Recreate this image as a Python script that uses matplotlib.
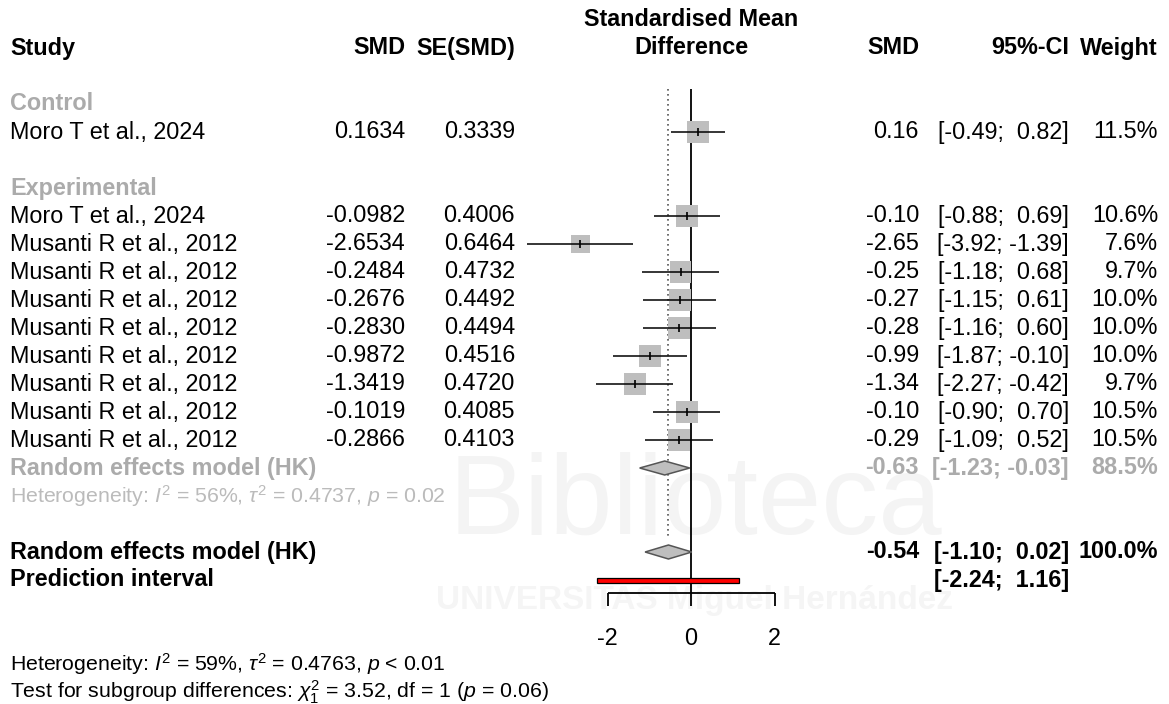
import numpy as np
import matplotlib
matplotlib.use('Agg')
import matplotlib.pyplot as plt
from matplotlib.patches import Polygon, Rectangle

plt.rcParams['font.family'] = ['Liberation Sans', 'DejaVu Sans']
plt.rcParams['mathtext.fontset'] = 'custom'
plt.rcParams['mathtext.rm'] = 'Liberation Sans'
plt.rcParams['mathtext.it'] = 'Liberation Sans:italic'
plt.rcParams['mathtext.bf'] = 'Liberation Sans:bold'

# ---- data ----
ctrl_study = ['Moro T et al., 2024']
ctrl_smd = [0.1634]
ctrl_se = [0.3339]
ctrl_lo = [-0.49]
ctrl_hi = [0.82]
ctrl_w = [11.5]

exp_study = ['Moro T et al., 2024'] + ['Musanti R et al., 2012'] * 8
exp_smd = [-0.0982, -2.6534, -0.2484, -0.2676, -0.2830, -0.9872, -1.3419, -0.1019, -0.2866]
exp_se = [0.4006, 0.6464, 0.4732, 0.4492, 0.4494, 0.4516, 0.4720, 0.4085, 0.4103]
exp_lo = [-0.88, -3.92, -1.18, -1.15, -1.16, -1.87, -2.27, -0.90, -1.09]
exp_hi = [0.69, -1.39, 0.68, 0.61, 0.60, -0.10, -0.42, 0.70, 0.52]
exp_w = [10.6, 7.6, 9.7, 10.0, 10.0, 10.0, 9.7, 10.5, 10.5]

exp_re = [-0.63, -1.23, -0.03, 88.5]      # est, lo, hi, weight
overall_re = [-0.54, -1.10, 0.02, 100.0]
pred_int = [-2.24, 1.16]
x_ticks = [-2, 0, 2]

W, H = 1169, 704
FS = 16.8
FS_SMALL = 15.3
GRAY = '#ABABAB'

fig = plt.figure(figsize=(W / 100, H / 100), dpi=100)
ax = fig.add_axes([0, 0, 1, 1])
ppu = 41.75                       # pixels per SMD unit
x0 = 691                          # pixel of SMD = 0
ax.set_xlim(-x0 / ppu, (W - x0) / ppu)
ax.set_ylim((H - 20) / 28, -20 / 28)   # one row = 28 px
ax.axis('off')

tr = ax.get_yaxis_transform()     # x: figure fraction, y: row


def px(p):
    return p / W


def txt(xp, row, s, ha='left', **kw):
    kw.setdefault('fontsize', FS)
    ax.text(px(xp), row, s, transform=tr, ha=ha, va='center', **kw)


def fmt_ci(lo, hi):
    a = f'{lo:.2f}' if lo < 0 else f' {lo:.2f}'
    b = f'{hi:.2f}' if hi < 0 else f' {hi:.2f}'
    return f'[{a}; {b}]'


# watermark
ax.text(px(695), 17.3, 'Biblioteca', transform=tr, ha='center', va='center',
        fontsize=82, color='#F4F4F4', zorder=0)
ax.text(px(695), 20.75, 'UNIVERSITAS Miguel Hernández', transform=tr, ha='center',
        va='center', fontsize=24, color='#F5F5F5', fontweight='bold', zorder=0)

# headers
txt(10, 1, 'Study', fontweight='bold')
txt(405, 1, 'SMD', ha='right', fontweight='bold')
txt(515, 1, 'SE(SMD)', ha='right', fontweight='bold')
txt(691, 0, 'Standardised Mean', ha='center', fontweight='bold')
txt(691, 1, 'Difference', ha='center', fontweight='bold')
txt(919, 1, 'SMD', ha='right', fontweight='bold')
txt(1069, 1, '95%-CI', ha='right', fontweight='bold')
txt(1158, 1, 'Weight', ha='right', fontweight='bold')


def draw_group(rows, study, smd, se, lo, hi, w):
    for r, s, m, e, l, h, wt in zip(rows, study, smd, se, lo, hi, w):
        txt(10, r, s)
        txt(405, r, f'{m:.4f}', ha='right')
        txt(515, r, f'{e:.4f}', ha='right')
        txt(919, r, f'{m:.2f}', ha='right')
        txt(1069, r, fmt_ci(l, h), ha='right')
        txt(1158, r, f'{wt:.1f}%', ha='right')
    side = 23 * np.sqrt(np.array(w) / 11.5) * 0.72
    ax.scatter(smd, rows, s=side ** 2, marker='s', color='#BEBEBE', lw=0, zorder=2)
    ax.hlines(rows, lo, hi, color='black', lw=1.1, zorder=3)
    ax.plot(smd, rows, ls='none', marker='|', ms=6, mew=1.2, color='black', zorder=4)


def diamond(row, est, lo, hi):
    h = 7 / 28
    ax.add_patch(Polygon([(lo, row), (est, row - h), (hi, row), (est, row + h)],
                         closed=True, fc='#BEBEBE', ec='#555555', lw=1.1, zorder=3))


# control subgroup
txt(10, 3, 'Control', fontweight='bold', color=GRAY)
draw_group([4], ctrl_study, ctrl_smd, ctrl_se, ctrl_lo, ctrl_hi, ctrl_w)

# experimental subgroup
txt(10, 6, 'Experimental', fontweight='bold', color=GRAY)
exp_rows = list(range(7, 7 + len(exp_smd)))
draw_group(exp_rows, exp_study, exp_smd, exp_se, exp_lo, exp_hi, exp_w)
txt(10, 16, 'Random effects model (HK)', fontweight='bold', color=GRAY)
txt(919, 16, f'{exp_re[0]:.2f}', ha='right', fontweight='bold', color=GRAY)
txt(1069, 16, fmt_ci(exp_re[1], exp_re[2]), ha='right', fontweight='bold', color=GRAY)
txt(1158, 16, f'{exp_re[3]:.1f}%', ha='right', fontweight='bold', color=GRAY)
diamond(16, exp_re[0], exp_re[1], exp_re[2])
txt(10, 17, r'Heterogeneity: $I^2$ = 56%, $\tau^2$ = 0.4737, $p$ = 0.02',
    color='#BBBBBB', fontsize=FS_SMALL)

# overall
txt(10, 19, 'Random effects model (HK)', fontweight='bold')
txt(919, 19, f'{overall_re[0]:.2f}', ha='right', fontweight='bold')
txt(1069, 19, fmt_ci(overall_re[1], overall_re[2]), ha='right', fontweight='bold')
txt(1158, 19, f'{overall_re[3]:.1f}%', ha='right', fontweight='bold')
diamond(19, overall_re[0], overall_re[1], overall_re[2])

txt(10, 20, 'Prediction interval', fontweight='bold')
txt(1069, 20, fmt_ci(pred_int[0], pred_int[1]), ha='right', fontweight='bold')
ph = 5 / 28
ax.add_patch(Rectangle((pred_int[0], 20 - ph / 2), pred_int[1] - pred_int[0], ph,
                       fc='red', ec='black', lw=0.9, zorder=3))

# reference lines
ax.vlines(0, 2.45, 20.46, color='black', lw=1.3, zorder=1)
ax.vlines(overall_re[0], 2.45, 18.55, color='#555555', lw=1.2, ls=(0, (1, 2)), zorder=1)

# x axis
ax.hlines(20.46, x_ticks[0], x_ticks[-1], color='black', lw=1.3)
ax.vlines(x_ticks, 20.46, 20.93, color='black', lw=1.3)
for t in x_ticks:
    ax.text(t, 22.08, f'{t}', ha='center', va='center', fontsize=FS)

# bottom statistics
txt(10, 23, r'Heterogeneity: $I^2$ = 59%, $\tau^2$ = 0.4763, $p$ < 0.01', fontsize=FS_SMALL)
txt(10, 24, r'Test for subgroup differences: $\chi^2_1$ = 3.52, df = 1 ($p$ = 0.06)',
    fontsize=FS_SMALL)

fig.savefig('out.png', dpi=100)
